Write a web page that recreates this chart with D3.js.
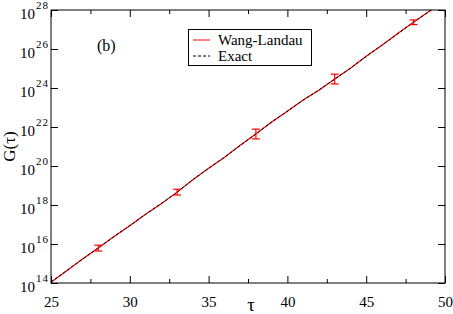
<!DOCTYPE html>
<html>
<head>
<meta charset="utf-8">
<script src="https://cdn.jsdelivr.net/npm/d3@7"></script>
<style>
  body { margin: 0; background: #fff; }
</style>
</head>
<body>
<div id="container"></div>
<script>
/* DATA */
const tau = [25, 26, 27, 28, 29, 30, 31, 32, 33, 34, 35, 36, 37, 38, 39, 40, 41, 42, 43, 44, 45, 46, 47, 48, 49, 50]
// log10 G(tau), exact enumeration
const exactLog = [14.05, 14.64, 15.22, 15.80, 16.38, 16.95, 17.52, 18.08, 18.65, 19.30, 19.88, 20.45, 21.05,
  21.65, 22.25, 22.82, 23.38, 23.90, 24.45, 25.02, 25.62, 26.20, 26.78, 27.38, 27.92, 28.50]
// log10 G(tau), Wang-Landau estimate
const wlLog = [14.04, 14.63, 15.23, 15.79, 16.39, 16.94, 17.53, 18.07, 18.66, 19.29, 19.89, 20.44, 21.06,
  21.64, 22.26, 22.81, 23.39, 23.89, 24.46, 25.01, 25.63, 26.19, 26.79, 27.37, 27.93, 28.49]
// error bars (log10 of low, high)
const errTau = [28, 33, 38, 43, 48]
const errLow = [15.64, 18.51, 21.39, 24.21, 27.25]
const errHigh = [15.94, 18.81, 21.89, 24.71, 27.49]

const xTicks = [25, 30, 35, 40, 45, 50]
const xMinor = [27.5, 32.5, 37.5, 42.5, 47.5]
const yExp = [14, 16, 18, 20, 22, 24, 26, 28]

const width = 453, height = 314
const margin = { top: 10, right: 8, bottom: 31, left: 51 }
const serif = "'Liberation Serif', 'Times New Roman', Times, serif"

/* SCALES */
const xScale = d3.scaleLinear()
  .domain([25, 50])
  .range([margin.left, width - margin.right])

const yScale = d3.scaleLog()
  .domain([1e14, 1e28])
  .range([height - margin.bottom, margin.top])

const svg = d3.select("#container")
  .append("svg")
  .attr("width", width)
  .attr("height", height)

const x0 = margin.left, x1 = width - margin.right
const y0 = height - margin.bottom, y1 = margin.top

svg.append("clipPath").attr("id", "clip")
  .append("rect")
  .attr("x", x0).attr("y", y1)
  .attr("width", x1 - x0).attr("height", y0 - y1)

// lines
const plot = svg.append("g").attr("clip-path", "url(#clip)")

const line = d3.line()
  .x((d, i) => xScale(tau[i]))
  .y(d => yScale(Math.pow(10, d)))

plot.append("path")
  .datum(wlLog)
  .attr("d", line)
  .attr("fill", "none")
  .attr("stroke", "#ff0000")
  .attr("stroke-width", 1.2)

plot.append("path")
  .datum(exactLog)
  .attr("d", line)
  .attr("fill", "none")
  .attr("stroke", "#000")
  .attr("stroke-width", 1)
  .attr("stroke-dasharray", "3,2")

// error bars
const eb = svg.selectAll(".err")
  .data(errTau)
  .join("g")
  .attr("class", "err")
  .attr("stroke", "#ff0000")
  .attr("stroke-width", 1.2)

eb.append("line")
  .attr("x1", d => xScale(d)).attr("x2", d => xScale(d))
  .attr("y1", (d, i) => yScale(Math.pow(10, errLow[i])))
  .attr("y2", (d, i) => yScale(Math.pow(10, errHigh[i])))
eb.append("line")
  .attr("x1", d => xScale(d) - 4).attr("x2", d => xScale(d) + 4)
  .attr("y1", (d, i) => yScale(Math.pow(10, errLow[i])))
  .attr("y2", (d, i) => yScale(Math.pow(10, errLow[i])))
eb.append("line")
  .attr("x1", d => xScale(d) - 4).attr("x2", d => xScale(d) + 4)
  .attr("y1", (d, i) => yScale(Math.pow(10, errHigh[i])))
  .attr("y2", (d, i) => yScale(Math.pow(10, errHigh[i])))

/* AXES (ticks inward on all sides) */
function styleAxis(g) {
  g.select(".domain").remove()
  g.selectAll("line").attr("stroke", "#000")
}

const bottom = svg.append("g")
  .attr("transform", `translate(0,${y0})`)
  .call(d3.axisBottom(xScale).tickValues(xTicks).tickSize(-7).tickPadding(13).tickFormat(d3.format("d")))
  .call(styleAxis)
bottom.attr("font-family", null).attr("font-size", null)
bottom.selectAll("text")
  .attr("fill", "#000")
  .style("font-size", "15px")
  .style("font-family", serif)

svg.append("g")
  .attr("transform", `translate(0,${y0})`)
  .call(d3.axisBottom(xScale).tickValues(xMinor).tickSize(-4).tickFormat(""))
  .call(styleAxis)

svg.append("g")
  .attr("transform", `translate(0,${y1})`)
  .call(d3.axisTop(xScale).tickValues(xTicks).tickSize(-7).tickFormat(""))
  .call(styleAxis)
svg.append("g")
  .attr("transform", `translate(0,${y1})`)
  .call(d3.axisTop(xScale).tickValues(xMinor).tickSize(-4).tickFormat(""))
  .call(styleAxis)

const yVals = yExp.map(e => Math.pow(10, e))
svg.append("g")
  .attr("transform", `translate(${x0},0)`)
  .call(d3.axisLeft(yScale).tickValues(yVals).tickSize(-7).tickFormat(""))
  .call(styleAxis)
svg.append("g")
  .attr("transform", `translate(${x1},0)`)
  .call(d3.axisRight(yScale).tickValues(yVals).tickSize(-7).tickFormat(""))
  .call(styleAxis)

// y tick labels 10^n
const yl = svg.selectAll(".ylab")
  .data(yExp)
  .join("text")
  .attr("class", "ylab")
  .attr("x", 20)
  .attr("y", d => yScale(Math.pow(10, d)) + 9)
  .style("font-family", serif)
  .style("font-size", "15px")
yl.append("tspan").text("10")
yl.append("tspan").attr("dx", 1).attr("dy", -10).style("font-size", "11px")
  .style("letter-spacing", "1px").text(d => d)

// frame
svg.append("rect")
  .attr("x", x0).attr("y", y1)
  .attr("width", x1 - x0).attr("height", y0 - y1)
  .attr("fill", "none")
  .attr("stroke", "#000")
  .attr("stroke-width", 1)

// axis titles
svg.append("text")
  .attr("x", (x0 + x1) / 2 + 3)
  .attr("y", 311)
  .attr("text-anchor", "middle")
  .style("font-family", serif)
  .style("font-size", "19px")
  .text("τ")

svg.append("text")
  .attr("transform", `translate(15,${(y0 + y1) / 2}) rotate(-90)`)
  .attr("text-anchor", "middle")
  .style("font-family", serif)
  .style("font-size", "17px")
  .text("G(τ)")

svg.append("text")
  .attr("x", 97).attr("y", 51)
  .style("font-family", serif)
  .style("font-size", "16px")
  .text("(b)")

// legend
const legend = svg.append("g")
legend.append("rect")
  .attr("x", 188.5).attr("y", 29.5)
  .attr("width", 123).attr("height", 36)
  .attr("fill", "#fff")
  .attr("stroke", "#000")
const legendNames = ["Wang-Landau", "Exact"]
const legendColors = ["#ff0000", "#000"]
const legendDash = [null, "3,2"]
legend.selectAll(".lline")
  .data(legendNames)
  .join("line")
  .attr("x1", 193).attr("x2", 210)
  .attr("y1", (_, i) => 40 + i * 16).attr("y2", (_, i) => 40 + i * 16)
  .attr("stroke", (_, i) => legendColors[i])
  .attr("stroke-dasharray", (_, i) => legendDash[i])
legend.selectAll(".ltext")
  .data(legendNames)
  .join("text")
  .attr("x", 218)
  .attr("y", (_, i) => 45 + i * 16)
  .style("font-family", serif)
  .style("font-size", "15px")
  .text(d => d)
</script>
</body>
</html>
